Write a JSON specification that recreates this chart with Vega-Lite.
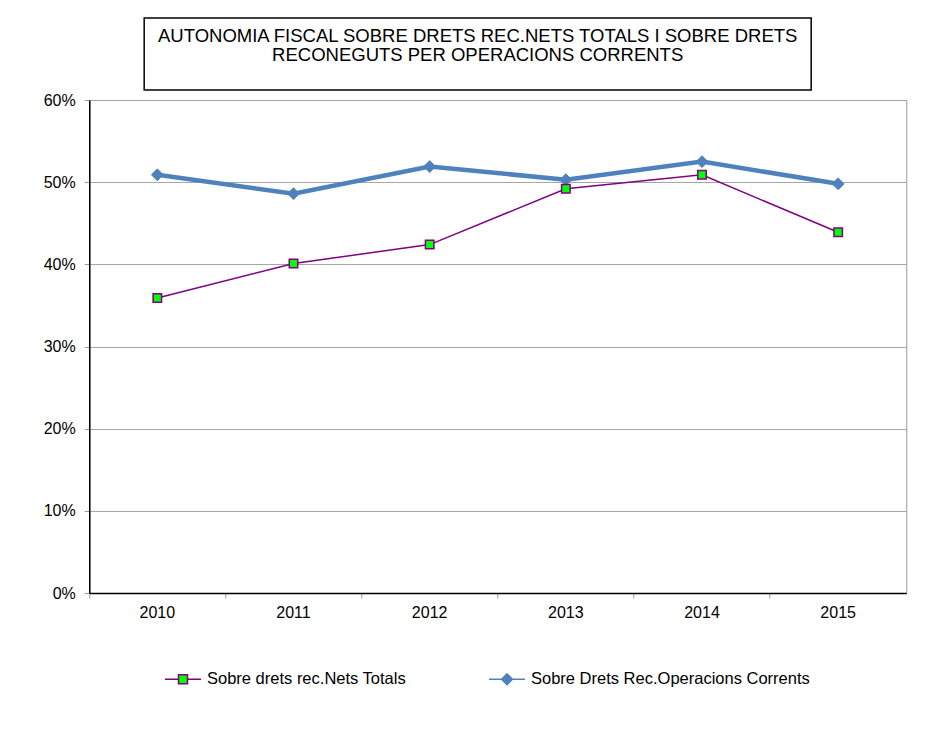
{
  "$schema": "https://vega.github.io/schema/vega-lite/v6.json",
  "background": "white",
  "padding": {"left": 42, "top": 17, "right": 5, "bottom": 5},
  "config": {
    "font": "Liberation Sans",
    "axis": {"labelFont": "Liberation Sans", "labelFontSize": 16, "labelColor": "#000000", "domainColor": "#000000", "domainWidth": 1.5},
    "legend": {"labelFont": "Liberation Sans", "labelFontSize": 16.5, "labelColor": "#000000", "labelLimit": 400}
  },
  "datasets": {
    "main": [
      {"year": "2010", "series": "Sobre drets rec.Nets Totals", "value": 0.359},
      {"year": "2011", "series": "Sobre drets rec.Nets Totals", "value": 0.401},
      {"year": "2012", "series": "Sobre drets rec.Nets Totals", "value": 0.424},
      {"year": "2013", "series": "Sobre drets rec.Nets Totals", "value": 0.492},
      {"year": "2014", "series": "Sobre drets rec.Nets Totals", "value": 0.509},
      {"year": "2015", "series": "Sobre drets rec.Nets Totals", "value": 0.439},
      {"year": "2010", "series": "Sobre Drets Rec.Operacions Corrents", "value": 0.509},
      {"year": "2011", "series": "Sobre Drets Rec.Operacions Corrents", "value": 0.486},
      {"year": "2012", "series": "Sobre Drets Rec.Operacions Corrents", "value": 0.519},
      {"year": "2013", "series": "Sobre Drets Rec.Operacions Corrents", "value": 0.503},
      {"year": "2014", "series": "Sobre Drets Rec.Operacions Corrents", "value": 0.525},
      {"year": "2015", "series": "Sobre Drets Rec.Operacions Corrents", "value": 0.498}
    ],
    "titleLines": [
      {"line": 1, "text": "AUTONOMIA FISCAL SOBRE DRETS REC.NETS TOTALS  I SOBRE DRETS"},
      {"line": 2, "text": "RECONEGUTS  PER OPERACIONS CORRENTS"}
    ]
  },
  "vconcat": [
    {
      "width": 667,
      "height": 72,
      "view": {"stroke": "#000000", "strokeWidth": 1.5, "fill": "white"},
      "data": {"name": "titleLines"},
      "mark": {"type": "text", "font": "Liberation Sans", "fontSize": 18.5, "baseline": "middle", "align": "center", "color": "#000000"},
      "encoding": {
        "y": {"field": "line", "type": "ordinal", "scale": {"type": "point", "range": [18, 37], "padding": 0},
              "axis": {"orient": "right", "title": null, "ticks": false, "domain": false, "labelColor": "white", "labelPadding": 31, "labelFontSize": 16}},
        "text": {"field": "text"}
      }
    },
    {
      "width": 817,
      "height": 493,
      "view": {"stroke": "#999999", "strokeWidth": 1},
      "data": {"name": "main"},
      "encoding": {
        "x": {"field": "year", "type": "ordinal",
              "scale": {"type": "band", "paddingInner": 0, "paddingOuter": 0},
              "axis": {"title": null, "bandPosition": 0, "tickSize": 5, "tickColor": "#999999", "labelAngle": 0, "labelPadding": 6, "grid": false}},
        "y": {"field": "value", "type": "quantitative",
              "scale": {"domain": [0, 0.6]},
              "axis": {"title": null, "format": ".0%", "values": [0, 0.1, 0.2, 0.3, 0.4, 0.5, 0.6], "grid": true, "gridColor": "#a6a6a6", "gridWidth": 1, "tickSize": 5, "tickColor": "#999999", "labelPadding": 9}}
      },
      "layer": [
        {
          "transform": [{"filter": "datum.series == 'Sobre Drets Rec.Operacions Corrents'"}],
          "mark": {"type": "line", "color": "#4F81BD", "strokeWidth": 4.5}
        },
        {
          "transform": [{"filter": "datum.series == 'Sobre Drets Rec.Operacions Corrents'"}],
          "mark": {"type": "point", "shape": "diamond", "filled": true, "fill": "#4F81BD", "stroke": "#4F81BD", "strokeWidth": 1, "size": 140, "opacity": 1}
        },
        {
          "transform": [{"filter": "datum.series == 'Sobre drets rec.Nets Totals'"}],
          "mark": {"type": "line", "color": "#800080", "strokeWidth": 1.5}
        },
        {
          "transform": [{"filter": "datum.series == 'Sobre drets rec.Nets Totals'"}],
          "mark": {"type": "point", "shape": "square", "filled": true, "fill": "#00FF00", "stroke": "#800080", "strokeWidth": 1.5, "size": 72, "opacity": 1}
        },
        {
          "transform": [{"filter": "false"}],
          "mark": {"type": "point", "filled": true, "opacity": 1},
          "encoding": {
            "shape": {"field": "series", "type": "nominal",
                      "scale": {"domain": ["Sobre drets rec.Nets Totals", "Sobre Drets Rec.Operacions Corrents"],
                                "range": ["M-1,0H-0.25M0.25,0H1M-0.25,-0.25H0.25V0.25H-0.25Z", "M-1,0H-0.3M0.3,0H1M-0.3,0L0,-0.3L0.3,0L0,0.3Z"]},
                      "legend": {"title": null, "orient": "none", "legendX": 75, "legendY": 642, "direction": "horizontal", "padding": 0, "columnPadding": 80, "labelOffset": 5, "symbolSize": 1296,
                                 "encode": {"symbols": {"update": {"strokeWidth": {"signal": "datum.value == 'Sobre drets rec.Nets Totals' ? 1.5 : 4.5"}}}}}},
            "fill": {"field": "series", "type": "nominal",
                     "scale": {"domain": ["Sobre drets rec.Nets Totals", "Sobre Drets Rec.Operacions Corrents"], "range": ["#00FF00", "#4F81BD"]}},
            "stroke": {"field": "series", "type": "nominal",
                       "scale": {"domain": ["Sobre drets rec.Nets Totals", "Sobre Drets Rec.Operacions Corrents"], "range": ["#800080", "#4F81BD"]}}
          }
        }
      ]
    }
  ],
  "center": true,
  "spacing": 0
}
